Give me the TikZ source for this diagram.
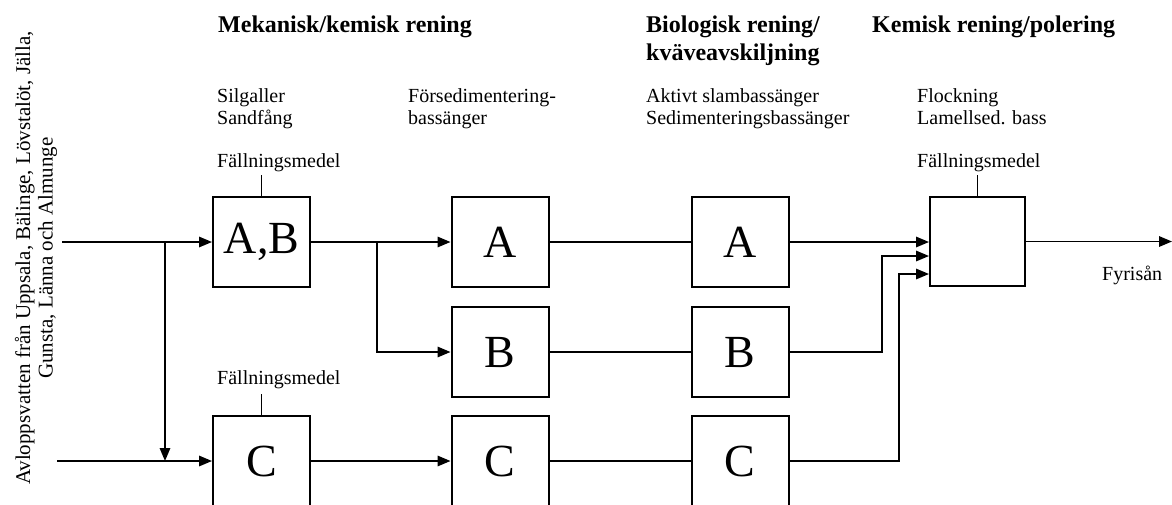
\documentclass[tikz,border=0pt]{standalone}
\usepackage{fontspec}
\setmainfont{Liberation Serif}
\usetikzlibrary{arrows.meta,calc}

\begin{document}
\begin{tikzpicture}[x=1pt,y=-1pt,
  tank/.style={draw,line width=2pt,minimum width=97pt,minimum height=90pt,
    inner sep=0pt,font=\fontsize{46}{50}\selectfont},
  pipe/.style={line width=1.6pt},
  flow/.style={pipe,-{Triangle[length=13pt,width=10.5pt]}},
  head/.style={anchor=base west,inner sep=0pt,font=\fontsize{24}{28.5}\selectfont\bfseries},
  note/.style={anchor=base west,inner sep=0pt,font=\fontsize{20}{22}\selectfont},
]
\useasboundingbox (0,0) rectangle (1172,504);

% stage headings
\node[head] (h1) at (218,32) {Mekanisk/kemisk rening};
\node[head] (h2) at (646,32) {\begin{tabular}[t]{@{}l@{}}Biologisk rening/\\kväveavskiljning\end{tabular}};
\node[head] (h3) at (872,32) {Kemisk rening/polering};

% process descriptions
\node[note] (d1) at (217,102) {\begin{tabular}[t]{@{}l@{}}Silgaller\\Sandfång\end{tabular}};
\node[note] (d2) at (408,102) {\begin{tabular}[t]{@{}l@{}}Försedimentering-\\bassänger\end{tabular}};
\node[note] (d3) at (646,102) {\begin{tabular}[t]{@{}l@{}}Aktivt slambassänger\\Sedimenteringsbassänger\end{tabular}};
\node[note] (d4) at (917,102) {\begin{tabular}[t]{@{}l@{}}Flockning\\Lamellsed. bass\end{tabular}};

% dosing labels
\node[note] (fm1) at (217,167) {Fällningsmedel};
\node[note] (fm2) at (217,384) {Fällningsmedel};
\node[note] (fm3) at (917,167) {Fällningsmedel};

% incoming wastewater
\node[rotate=90,align=center,font=\fontsize{21}{22.5}\selectfont] (src) at (36,258)
  {Avloppsvatten från Uppsala, Bälinge, Lövstalöt, Jälla,\\Gunsta, Länna och Almunge};

% basins
\node[tank] (AB) at (261.5,242) {A,B};
\node[tank] (A2) at (500,242) {A};
\node[tank] (B2) at (500,352) {B};
\node[tank] (C1) at (261.5,461) {C};
\node[tank] (C2) at (500,461) {C};
\node[tank] (A3) at (740,242) {A};
\node[tank] (B3) at (740,352) {B};
\node[tank] (C3) at (740,461) {C};
\node[tank,minimum width=95pt,minimum height=89pt] (F) at (977.5,241.5) {};

\node[note] (river) at (1102,280) {Fyrisån};

% junction points
\coordinate (in1) at (62,242);
\coordinate (in2) at (57,461);
\coordinate (j1) at (165,242);
\coordinate (j2) at (165,461);
\coordinate (j3) at (377,242);
\coordinate (fb) at ($(F.west)+(0,14.5)$);
\coordinate (fc) at ($(F.west)+(0,32.5)$);
\coordinate (xb) at (882,0);
\coordinate (xc) at (899,0);
\coordinate (out) at (1172,241.5);

% flows
\draw[flow] (in1) -- (AB.west);
\draw[flow] (j1) -- (j2);
\draw[flow] (in2) -- (C1.west);
\draw[flow] (AB.east) -- (A2.west);
\draw[flow] (j3) |- (B2.west);
\draw[flow] (C1.east) -- (C2.west);
\draw[pipe] (A2.east) -- (A3.west);
\draw[pipe] (B2.east) -- (B3.west);
\draw[pipe] (C2.east) -- (C3.west);
\draw[flow] (A3.east) -- (A3.east -| F.west);
\draw[flow] (B3.east) -| (xb |- fb) -- (fb);
\draw[flow] (C3.east) -| (xc |- fc) -- (fc);
\draw[flow] (F.east) -- (out);

% dosing stubs
\draw[pipe] (AB.north) -- ++(0,-21);
\draw[pipe] (C1.north) -- ++(0,-21);
\draw[pipe] (F.north) -- ++(0,-21);
\end{tikzpicture}
\end{document}
